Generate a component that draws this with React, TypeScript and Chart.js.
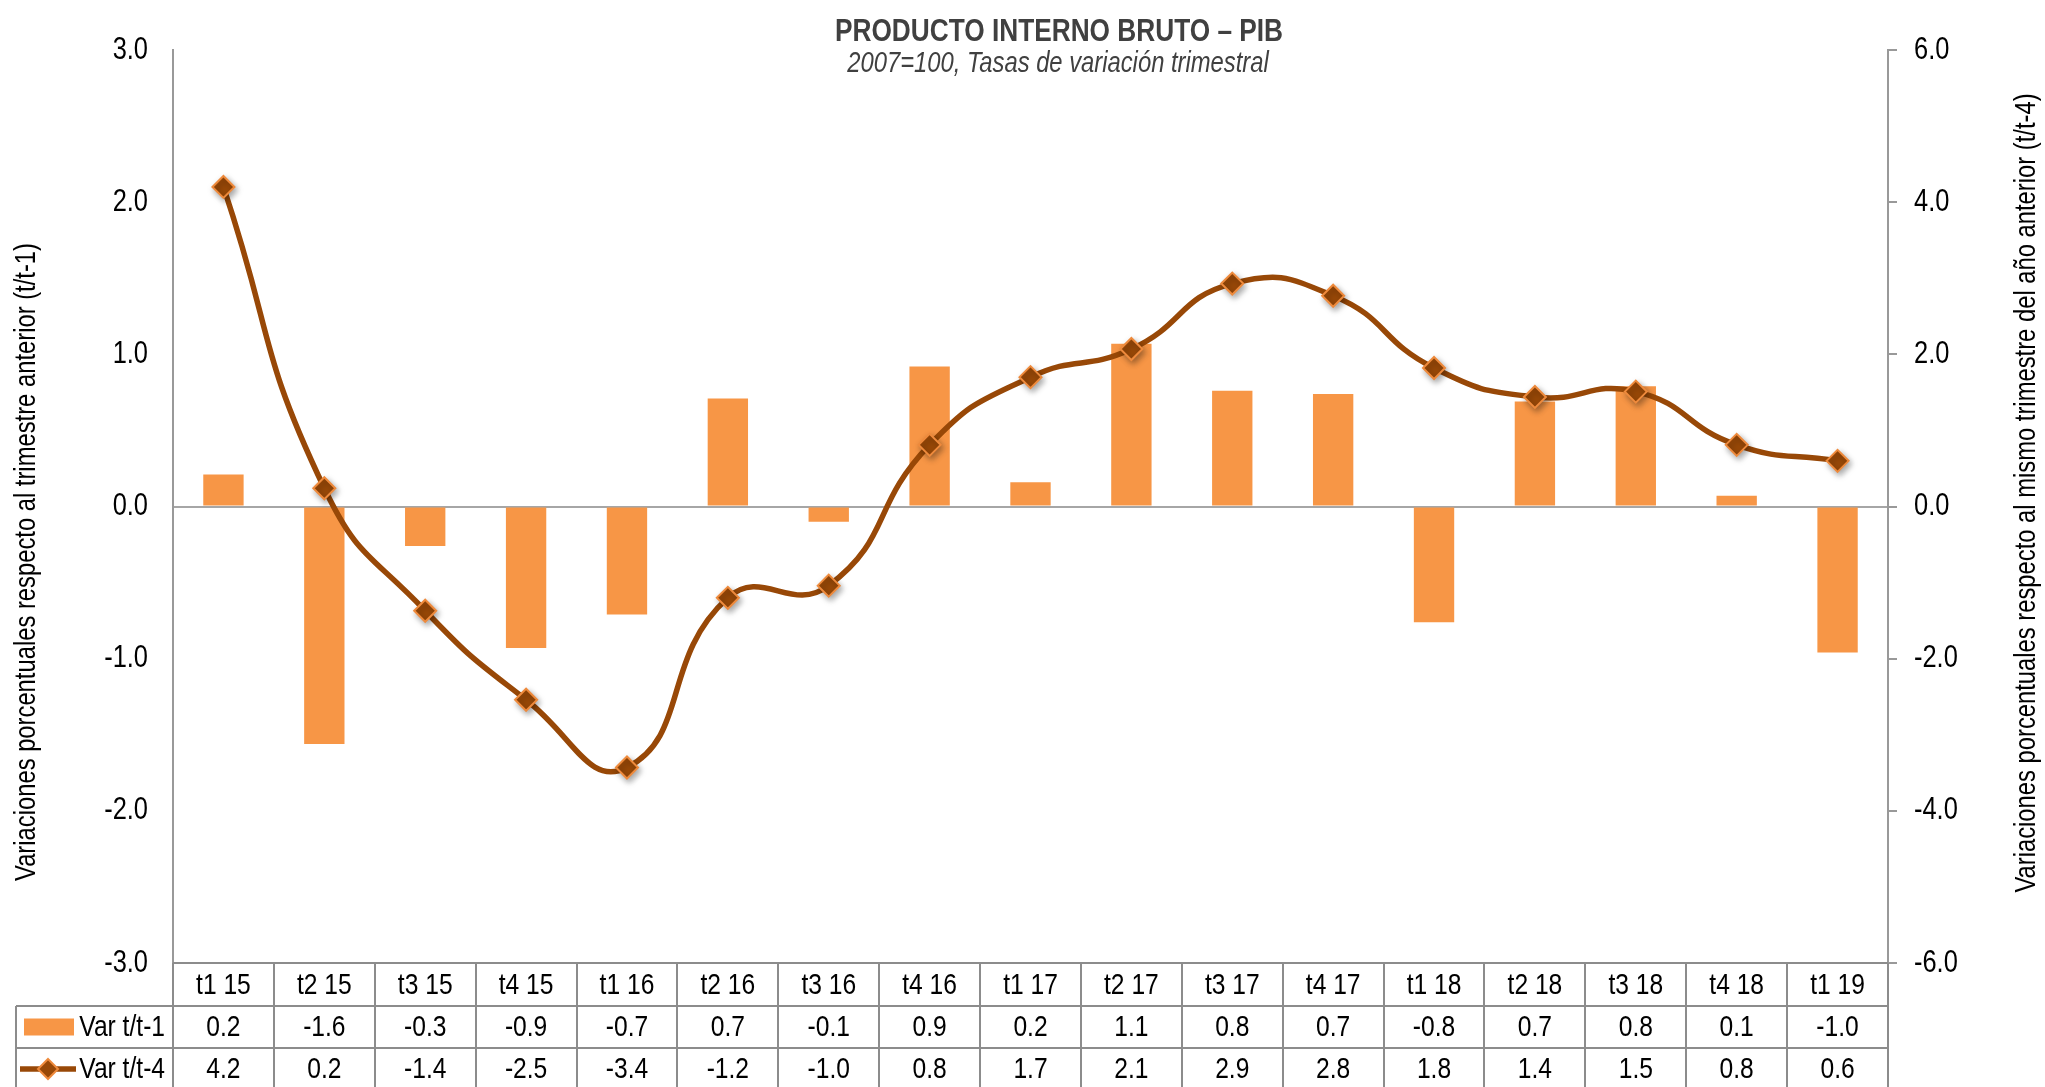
import React, { useEffect, useRef } from "react";
import { Chart, registerables } from "chart.js";

Chart.register(...registerables);

// ---------- data ----------
const categories = [
  "t1 15", "t2 15", "t3 15", "t4 15",
  "t1 16", "t2 16", "t3 16", "t4 16",
  "t1 17", "t2 17", "t3 17", "t4 17",
  "t1 18", "t2 18", "t3 18", "t4 18",
  "t1 19",
];
// Var t/t-1 (left axis, bars)
const varTrimestral = [
  0.21, -1.56, -0.26, -0.93,
  -0.71, 0.71, -0.1, 0.92,
  0.16, 1.07, 0.76, 0.74,
  -0.76, 0.69, 0.79, 0.07,
  -0.96,
];
// Var t/t-4 (right axis, line)
const varAnual = [
  4.2, 0.24, -1.37, -2.54,
  -3.43, -1.2, -1.04, 0.81,
  1.7, 2.07, 2.93, 2.77,
  1.82, 1.44, 1.51, 0.81,
  0.6,
];
const seriesNames = ["Var t/t-1", "Var t/t-4"];
const leftTicks = { min: -3, max: 3, step: 1 };
const rightTicks = { min: -6, max: 6, step: 2 };
const titleText = "PRODUCTO INTERNO BRUTO – PIB";
const subtitleText = "2007=100, Tasas de variación trimestral";
const leftAxisTitle = "Variaciones porcentuales respecto al trimestre anterior (t/t-1)";
const rightAxisTitle = "Variaciones porcentuales respecto al mismo trimestre del año anterior (t/t-4)";

// ---------- style ----------
const W = 2045;
const H = 1087;
const SANS = "'Liberation Sans', Arial, sans-serif";
const NARROW_SCALE = 0.82; // emulates Arial Narrow
const BAR_COLOR = "#F79646";
const LINE_COLOR = "#984807";
const MARKER_BORDER = "#EE8A3C";
const AXIS_COLOR = "#999999";
const TABLE_LINE = "#8C8C8C";
const TICK_SIZE = 31;
const TABLE_SIZE = 30;

type TextOpts = {
  size: number;
  weight?: string;
  style?: string;
  align?: CanvasTextAlign;
  baseline?: CanvasTextBaseline;
  color?: string;
  rotate?: number;
};

const narrowText = (ctx: CanvasRenderingContext2D, text: string, x: number, y: number, o: TextOpts) => {
  ctx.save();
  ctx.translate(x, y);
  if (o.rotate) ctx.rotate(o.rotate);
  ctx.scale(NARROW_SCALE, 1);
  ctx.font = `${o.style || "normal"} ${o.weight || "normal"} ${o.size}px ${SANS}`;
  ctx.textAlign = o.align || "center";
  ctx.textBaseline = o.baseline || "alphabetic";
  ctx.fillStyle = o.color || "#000";
  ctx.fillText(text, 0, 0);
  ctx.restore();
};

const drawDiamond = (ctx: CanvasRenderingContext2D, x: number, y: number, r: number) => {
  ctx.beginPath();
  ctx.moveTo(x, y - r);
  ctx.lineTo(x + r, y);
  ctx.lineTo(x, y + r);
  ctx.lineTo(x - r, y);
  ctx.closePath();
  ctx.fillStyle = LINE_COLOR;
  ctx.fill();
  ctx.lineWidth = 2;
  ctx.strokeStyle = MARKER_BORDER;
  ctx.stroke();
};

// soft drop shadow under the diamond markers only
const markerShadowPlugin = {
  id: "markerShadow",
  beforeDatasetDraw(chart: any, args: any) {
    if (chart.data.datasets[args.index].id === "markers") {
      const ctx = chart.ctx;
      ctx.save();
      ctx.shadowColor = "rgba(0,0,0,0.35)";
      ctx.shadowBlur = 6;
      ctx.shadowOffsetX = 2;
      ctx.shadowOffsetY = 3;
    }
  },
  afterDatasetDraw(chart: any, args: any) {
    if (chart.data.datasets[args.index].id === "markers") {
      chart.ctx.restore();
    }
  },
};

const decorPlugin = {
  id: "decor",
  afterDraw(chart: any) {
    const ctx: CanvasRenderingContext2D = chart.ctx;
    const ca = chart.chartArea;
    const xs = chart.scales.x;
    const yl = chart.scales.y;
    const yr = chart.scales.y1;
    const n = categories.length;
    const colW = (ca.right - ca.left) / n;

    // ---- titles ----
    narrowText(ctx, titleText, 1059, 41, { size: 32, weight: "bold", color: "#404040" });
    narrowText(ctx, subtitleText, 1058, 72, { size: 29, style: "italic", color: "#404040" });

    // ---- axis tick labels ----
    yl.ticks.forEach((t: any) => {
      narrowText(ctx, Number(t.value).toFixed(1), ca.left - 25, yl.getPixelForValue(t.value), {
        size: TICK_SIZE, align: "right", baseline: "middle",
      });
    });
    yr.ticks.forEach((t: any) => {
      narrowText(ctx, Number(t.value).toFixed(1), ca.right + 26, yr.getPixelForValue(t.value), {
        size: TICK_SIZE, align: "left", baseline: "middle",
      });
    });

    // ---- axis titles ----
    narrowText(ctx, leftAxisTitle, 27, 562, { size: 29, baseline: "middle", rotate: -Math.PI / 2 });
    narrowText(ctx, rightAxisTitle, 2027, 493, { size: 29, baseline: "middle", rotate: -Math.PI / 2 });

    // ---- data table ----
    const y0 = ca.bottom;
    const y1 = y0 + 43;
    const y2 = y1 + 42;
    const y3 = y2 + 42;
    const legendLeft = 16;
    ctx.save();
    ctx.strokeStyle = TABLE_LINE;
    ctx.lineWidth = 2;
    ctx.beginPath();
    ctx.moveTo(ca.left, y0); ctx.lineTo(ca.right, y0);
    ctx.moveTo(legendLeft, y1); ctx.lineTo(ca.right, y1);
    ctx.moveTo(legendLeft, y2); ctx.lineTo(ca.right, y2);
    ctx.moveTo(legendLeft, y3); ctx.lineTo(ca.right, y3);
    for (let i = 0; i <= n; i++) {
      const x = Math.round(ca.left + i * colW);
      ctx.moveTo(x, y0); ctx.lineTo(x, y3);
    }
    ctx.moveTo(legendLeft, y1); ctx.lineTo(legendLeft, y3);
    ctx.stroke();
    ctx.restore();

    for (let i = 0; i < n; i++) {
      const x = xs.getPixelForValue(i);
      narrowText(ctx, categories[i], x, (y0 + y1) / 2 + 1, { size: TABLE_SIZE, baseline: "middle" });
      narrowText(ctx, varTrimestral[i].toFixed(1), x, (y1 + y2) / 2 + 1, { size: TABLE_SIZE, baseline: "middle" });
      narrowText(ctx, varAnual[i].toFixed(1), x, (y2 + y3) / 2 + 1, { size: TABLE_SIZE, baseline: "middle" });
    }
    // legend cells
    narrowText(ctx, seriesNames[0], ca.left - 8, (y1 + y2) / 2 + 1, { size: TABLE_SIZE, align: "right", baseline: "middle" });
    narrowText(ctx, seriesNames[1], ca.left - 8, (y2 + y3) / 2 + 1, { size: TABLE_SIZE, align: "right", baseline: "middle" });
    ctx.save();
    ctx.fillStyle = BAR_COLOR;
    ctx.fillRect(24, (y1 + y2) / 2 - 8.5, 50, 17);
    const ly = (y2 + y3) / 2;
    ctx.strokeStyle = LINE_COLOR;
    ctx.lineWidth = 5.5;
    ctx.beginPath();
    ctx.moveTo(20, ly); ctx.lineTo(76, ly);
    ctx.stroke();
    drawDiamond(ctx, 48, ly, 10);
    ctx.restore();
  },
};

export default function App() {
  const ref = useRef<HTMLCanvasElement | null>(null);

  useEffect(() => {
    document.body.style.margin = "0";
    const canvas = ref.current;
    if (!canvas) return;
    const chart = new Chart(canvas, {
      type: "bar",
      data: {
        labels: categories,
        datasets: [
          {
            id: "markers",
            type: "line",
            label: seriesNames[1] + " markers",
            data: varAnual,
            yAxisID: "y1",
            showLine: false,
            pointStyle: "rectRot",
            pointRadius: 11,
            pointBackgroundColor: LINE_COLOR,
            pointBorderColor: MARKER_BORDER,
            pointBorderWidth: 2,
            order: -1,
          } as any,
          {
            type: "line",
            label: seriesNames[1],
            data: varAnual,
            yAxisID: "y1",
            borderColor: LINE_COLOR,
            borderWidth: 5.5,
            tension: 0.5,
            pointRadius: 0,
            order: 0,
          } as any,
          {
            type: "bar",
            label: seriesNames[0],
            data: varTrimestral,
            yAxisID: "y",
            backgroundColor: BAR_COLOR,
            barPercentage: 0.4,
            categoryPercentage: 1,
            order: 1,
          } as any,
        ],
      },
      options: {
        animation: false,
        responsive: false,
        maintainAspectRatio: false,
        devicePixelRatio: 1,
        layout: { padding: { top: 50, bottom: 124, left: 0, right: 0 } },
        plugins: {
          legend: { display: false },
          title: { display: false },
          tooltip: { enabled: false },
        },
        scales: {
          x: { display: false, offset: true },
          y: {
            position: "left",
            min: leftTicks.min,
            max: leftTicks.max,
            afterFit: (s: any) => { s.width = 173; },
            ticks: { stepSize: leftTicks.step, display: false },
            grid: {
              drawTicks: false,
              lineWidth: 2,
              color: (c: any) => (c.tick && c.tick.value === 0 ? "#A6A6A6" : "rgba(0,0,0,0)"),
            },
            border: { display: true, color: AXIS_COLOR, width: 2 },
          },
          y1: {
            position: "right",
            min: rightTicks.min,
            max: rightTicks.max,
            afterFit: (s: any) => { s.width = 157; },
            ticks: { stepSize: rightTicks.step, display: false },
            grid: {
              drawOnChartArea: false,
              drawTicks: true,
              tickLength: 9,
              lineWidth: 2,
              color: AXIS_COLOR,
            },
            border: { display: true, color: AXIS_COLOR, width: 2 },
          },
        },
      } as any,
      plugins: [markerShadowPlugin, decorPlugin],
    });
    return () => chart.destroy();
  }, []);

  return (
    <div style={{ width: W, height: H, position: "relative", background: "#fff" }}>
      <canvas ref={ref} width={W} height={H} style={{ display: "block", width: W, height: H }} />
    </div>
  );
}
